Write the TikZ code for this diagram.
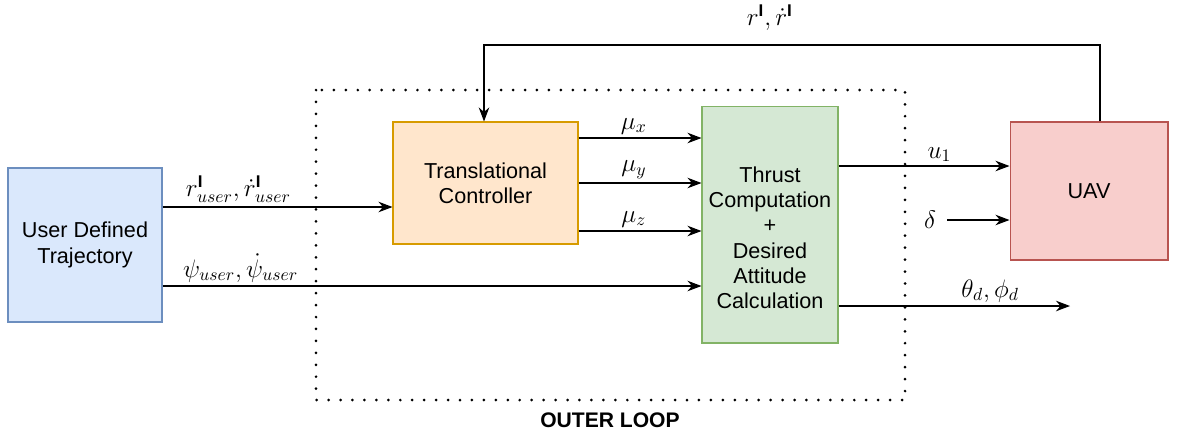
\documentclass[tikz,border=0pt]{standalone}
\usepackage{amsmath}
\usepackage{fontspec}
\setmainfont{Liberation Sans}
\usetikzlibrary{arrows.meta}
\definecolor{bluefill}{HTML}{DAE8FC}
\definecolor{bluedraw}{HTML}{6C8EBF}
\definecolor{orangefill}{HTML}{FFE6CC}
\definecolor{orangedraw}{HTML}{D79B00}
\definecolor{greenfill}{HTML}{D5E8D4}
\definecolor{greendraw}{HTML}{82B366}
\definecolor{redfill}{HTML}{F8CECC}
\definecolor{reddraw}{HTML}{B85450}
\tikzset{
  block/.style={draw, line width=0.6pt, align=center, inner sep=2pt,
    font=\fontsize{12.3}{14.4}\selectfont},
  arr/.style={-{Stealth[length=8pt,width=6pt]}, line width=0.6pt},
  lab/.style={font=\fontsize{13.8}{16}\selectfont, inner sep=2pt}
}
\begin{document}
\begin{tikzpicture}[x=0.02cm, y=-0.02cm]
			\useasboundingbox (0,0) rectangle (1199,437);
			
			\node[block, fill=bluefill, draw=bluedraw, minimum width=3.08cm, minimum height=3.08cm] (user) at (85,245) {User Defined\\Trajectory};
			\node[block, fill=orangefill, draw=orangedraw, minimum width=3.7cm, minimum height=2.44cm] (trans) at (485.5,183) {Translational\\Controller};
			\node[block, fill=greenfill, draw=greendraw, minimum width=2.72cm, minimum height=4.74cm] (thrust) at (770,224.5) {\rule{0pt}{24pt}Thrust\\Computation\\+\\Desired\\Attitude\\Calculation};
			\node[block, fill=redfill, draw=reddraw, minimum width=3.16cm, minimum height=2.76cm] (uav) at (1089,191) {UAV};
			
			\draw[line width=1.7pt, line cap=round, dash pattern=on 0pt off 6.8pt] (316,90) rectangle (905,400);
			\node[lab, font=\fontsize{12}{14}\selectfont\bfseries] (outer) at (610,420) {OUTER LOOP};
			
			\coordinate (fbr) at (1100,45);
			\coordinate (fbl) at (484,45);
			\draw[arr] (uav.north -| fbr) -- (fbr) -- node[lab, pos=0.536, above=6pt] {$r^{\mathbf{I}}, \dot{r}^{\mathbf{I}}$} (fbl) -- (trans.north -| fbl);
			
			\draw[arr] (user.east |- {(0,207)}) -- node[lab, pos=0.33, above] {$r^{\mathbf{I}}_{user}, \dot{r}^{\mathbf{I}}_{user}$} (trans.west |- {(0,207)});
			\draw[arr] (user.east |- {(0,286)}) -- node[lab, pos=0.145, above] {$\psi_{user}, \dot{\psi}_{user}$} (thrust.west |- {(0,286)});
			
			\foreach \y/\ax in {138/x, 183/y, 231/z}
				\draw[arr] (trans.east |- {(0,\y)}) -- node[lab, pos=0.45, above] {$\mu_\ax$} (thrust.west |- {(0,\y)});
			
			\draw[arr] (thrust.east |- {(0,166)}) -- node[lab, pos=0.59, above] {$u_1$} (uav.west |- {(0,166)});
			\coordinate (din) at (947,220);
			\node[lab, left=4pt] (delta) at (din) {$\delta$};
			\draw[arr] (din) -- (uav.west |- din);
			\coordinate (tout) at (1070,306);
			\draw[arr] (thrust.east |- tout) -- node[lab, pos=0.655, above] {$\theta_d, \phi_d$} (tout);
			
		\end{tikzpicture}
\end{document}
